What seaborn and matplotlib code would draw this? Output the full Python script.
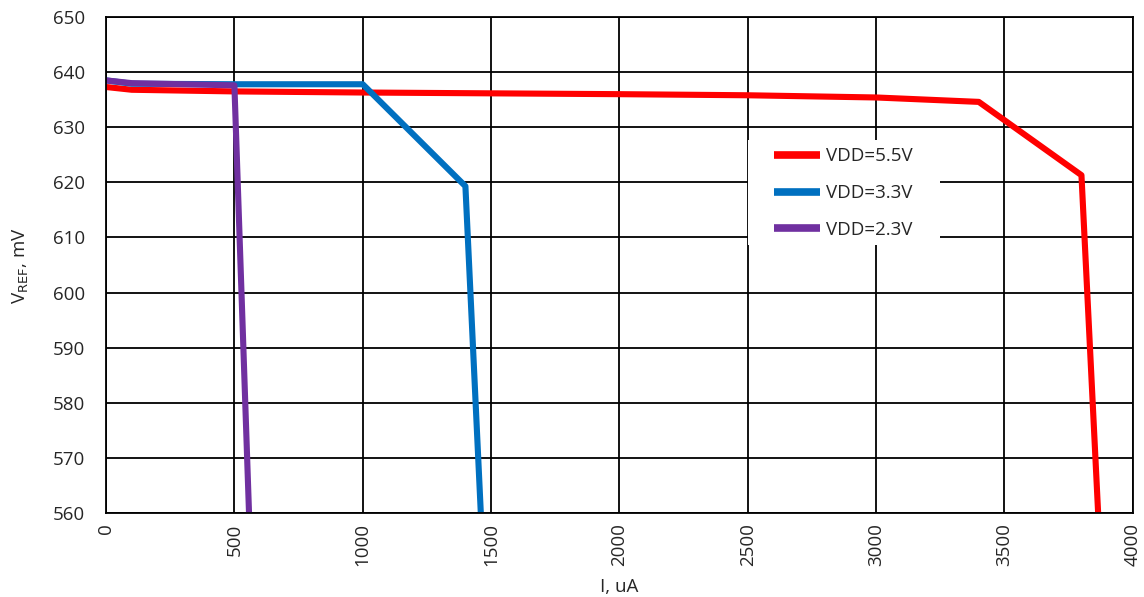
import pandas as pd
import matplotlib
matplotlib.use("Agg")
import matplotlib.pyplot as plt
from matplotlib.patches import Rectangle
import seaborn as sns

# dados (I em uA, VREF em mV)
i_55 = [0, 100, 500, 1000, 2000, 2500, 3000, 3400, 3800, 3865]
v_55 = [637.3, 636.8, 636.5, 636.3, 636.0, 635.8, 635.4, 634.6, 621.3, 560.0]

i_33 = [0, 100, 500, 1000, 1400, 1460]
v_33 = [638.5, 637.9, 637.8, 637.8, 619.3, 560.0]

i_23 = [0, 100, 300, 500, 557]
v_23 = [638.5, 638.0, 637.8, 637.6, 560.0]

series = ["VDD=5.5V", "VDD=3.3V", "VDD=2.3V"]
cores = ["#ff0000", "#0070c0", "#7030a0"]

df = pd.concat([
    pd.DataFrame({"I": i_55, "V": v_55, "serie": series[0]}),
    pd.DataFrame({"I": i_33, "V": v_33, "serie": series[1]}),
    pd.DataFrame({"I": i_23, "V": v_23, "serie": series[2]}),
], ignore_index=True)

sns.set_style("white")
plt.rcParams["font.family"] = ["Open Sans", "DejaVu Sans"]
FS = 13.5

fig = plt.figure(figsize=(11.44, 5.97), dpi=100)
ax = fig.add_axes([0.0927, 0.1407, 0.8975, 0.8308])

sns.lineplot(data=df, x="I", y="V", hue="serie", hue_order=series,
             palette=cores, linewidth=4.4, sort=False, estimator=None, ax=ax)

ax.set_xlim(0, 4000)
ax.set_ylim(560, 650)
ax.set_xticks(range(0, 4001, 500))
ax.set_yticks(range(560, 651, 10))
ax.grid(True, color="black", linewidth=1.3)
ax.set_axisbelow(True)
for s in ax.spines.values():
    s.set_color("black")
    s.set_linewidth(1.3)

ax.tick_params(axis="x", labelrotation=90, labelsize=FS, length=4, color="black")
ax.tick_params(axis="y", labelsize=FS, length=0, pad=15)
ax.set_xlabel("I, uA", fontsize=FS, labelpad=8)
ax.set_ylabel(r"V$_{\mathrm{REF}}$, mV", fontsize=FS, labelpad=16)

# fundo branco da legenda (cobre a grade como no Excel)
ax.add_patch(Rectangle((0.625, 0.540), 0.187, 0.212, transform=ax.transAxes,
                       facecolor="white", edgecolor="none", zorder=1.5))

leg = ax.legend(loc="upper left", bbox_to_anchor=(0.651, 0.737), frameon=False,
                fontsize=FS, handlelength=2.45, handletextpad=0.3,
                labelspacing=1.0, borderpad=0, borderaxespad=0)
for h in leg.get_lines():
    h.set_linewidth(5.5)
    h.set_solid_capstyle("butt")

fig.savefig("out.png", dpi=100)
